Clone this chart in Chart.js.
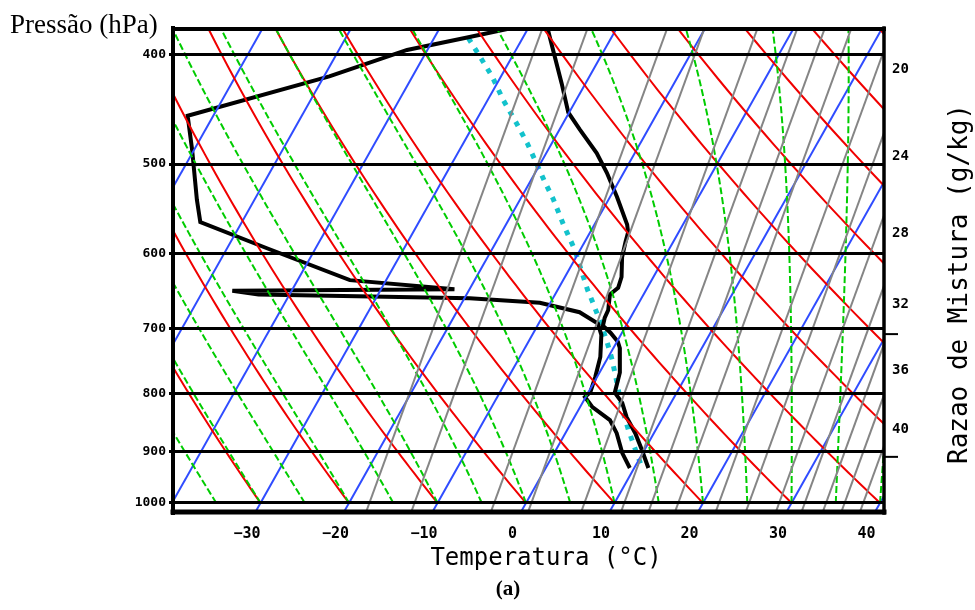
<!DOCTYPE html>
<html>
<head>
<meta charset="utf-8">
<title>Skew-T</title>
<script src="https://cdn.jsdelivr.net/npm/chart.js@4.4.1/dist/chart.umd.min.js"></script>
<style>
  html,body{margin:0;padding:0;background:#fff;}
</style>
</head>
<body>
<canvas id="myc" width="975" height="610"></canvas>
<script>
// ---- values ----
var presLevels = [400, 500, 600, 700, 800, 900, 1000]
var tempTicks = [-30, -20, -10, 0, 10, 20, 30, 40]
var mixLabels = [20, 24, 28, 32, 36, 40]
var mixLabelPres = [412, 492, 576, 666, 762, 861]
var sideMarkPres = [708, 910]

// temperature sounding (hPa / degC)
var tempPres = [378, 396, 424, 450, 466, 489, 509, 535, 566, 575, 586, 605, 630, 644, 653, 674, 685, 696, 706, 719, 728, 766, 798, 815, 839, 867, 897, 931]
var tempVals = [-27.9, -25.8, -22.7, -20.1, -17.7, -14.3, -11.9, -9.2, -6.3, -5.7, -5.4, -4.8, -3.6, -3.3, -3.8, -3.0, -2.9, -2.6, -1.3, 0.1, 0.7, 2.3, 3.0, 4.5, 5.9, 7.9, 9.7, 11.6]

// dew point sounding
var dewPres = [378, 386, 396, 418, 453, 486, 538, 563, 594, 634, 646, 648, 653, 658, 664, 677, 693, 709, 742, 773, 797, 805, 822, 844, 867, 903, 931]
var dewVals = [-31.5, -36.3, -42.3, -49.4, -62.9, -60.2, -56.5, -54.7, -45.5, -34.1, -21.7, -46.7, -43.5, -19.4, -11.2, -6.1, -3.3, -2.2, -0.9, -0.2, 0.2, -0.1, 1.4, 4.2, 5.8, 7.7, 9.5]

// lifted parcel (cyan dots)
var parcelPres = [922, 892, 861, 822, 778, 746, 721, 695, 664, 647, 625, 596, 566, 537, 518, 498, 479, 459, 439, 418, 398, 382]
var parcelVals = [10.4, 8.7, 6.9, 4.7, 2.4, 0.6, -1.0, -2.8, -5.2, -6.6, -8.3, -10.6, -13.5, -16.3, -18.4, -20.6, -22.8, -25.4, -28.2, -31.0, -34.2, -36.9]

// background line families
var isotherms = [-70, -60, -50, -40, -30, -20, -10, 0, 10, 20, 30, 40]
var dryAdiabats = [-30, -20, -10, 0, 10, 20, 30, 40, 50, 60, 70, 80, 90, 100, 110]   // theta, degC
var moistAdiabats = [-40, -35, -30, -25, -20, -15, -10, -5, 0, 5, 10, 15, 20, 25, 30, 35, 40] // T at 1000 hPa
// gray mixing-ratio guide lines: temperature where each crosses 1000 hPa
var mixLineBase = [-17.7, -12.6, -3.6, 0.6, 6.6, 11.1, 14.2, 17.2, 21.8, 25.2, 28.6, 31.5, 33.9, 36.0, 38.1]
var MIX_LAPSE = 11.0   // degC per ln(p) along a gray line, as drawn in the figure

// diagram geometry (skew-T)
var P_REF = 1050, SKEW = 31.15
var P_TOP = 378.6, P_BOT = 1020.7
var T_LEFT = -38.37, T_RIGHT = 41.97

function pt(t, p) { return {x: t + SKEW * Math.log(P_REF / p), y: p} }

function esat(t) { return 6.112 * Math.exp(17.67 * t / (t + 243.5)) }

function moistRate(p, t) {
    var T = t + 273.15
    var es = esat(t)
    var rs = 0.622 * es / (p - es)
    var num = 287.04 * T + 2.501e6 * rs
    var den = 1005.7 + 2.501e6 * 2.501e6 * rs * 0.622 / (287.04 * T * T)
    return num / den / p
}

var datasets = []
function addLine(pts, color, width, dash) {
    datasets.push({
        data: pts, borderColor: color, backgroundColor: color, borderWidth: width,
        borderDash: dash || [], showLine: true, pointRadius: 0, fill: false, tension: 0
    })
}

// mixing ratio lines (gray, straight)
mixLineBase.forEach(function (t0) {
    var pts = [1040, 370].map(function (p) { return pt(t0 - MIX_LAPSE * Math.log(1000 / p), p) })
    addLine(pts, '#858585', 2)
})

// moist adiabats (green dashed)
moistAdiabats.forEach(function (t0) {
    var pts = [pt(t0, 1000)], p = 1000, t = t0, h = -5
    while (p > 370) {
        var k1 = moistRate(p, t)
        var k2 = moistRate(p + h / 2, t + h / 2 * k1)
        var k3 = moistRate(p + h / 2, t + h / 2 * k2)
        var k4 = moistRate(p + h, t + h * k3)
        t += h / 6 * (k1 + 2 * k2 + 2 * k3 + k4)
        p += h
        pts.push(pt(t, p))
    }
    addLine(pts, '#00cc00', 2, [7, 3])
})

// dry adiabats (red)
dryAdiabats.forEach(function (th) {
    var pts = []
    for (var p = 1000; p >= 370; p -= 10) pts.push(pt((th + 273.15) * Math.pow(p / 1000, 0.2857) - 273.15, p))
    addLine(pts, '#f00000', 2)
})

// isotherms (blue)
isotherms.forEach(function (t) {
    addLine([pt(t, 1030), pt(t, 370)], '#2f4cff', 2)
})

// soundings
addLine(tempPres.map(function (p, i) { return pt(tempVals[i], p) }), '#000', 4)
addLine(dewPres.map(function (p, i) { return pt(dewVals[i], p) }), '#000', 4)
addLine(parcelPres.map(function (p, i) { return pt(parcelVals[i], p) }), '#12c2cc', 5, [5, 7])

var monoFont = 'DejaVu Sans Mono'

var frameText = {
    id: 'frameText',
    afterDraw: function (chart) {
        var c = chart.ctx, a = chart.chartArea
        c.save()
        c.strokeStyle = '#000'
        c.lineCap = 'square'
        c.lineWidth = 4
        c.beginPath(); c.moveTo(a.left, a.top + 1); c.lineTo(a.right, a.top + 1); c.stroke()
        c.beginPath(); c.moveTo(a.left, a.top); c.lineTo(a.left, a.bottom); c.stroke()
        c.lineWidth = 3.5
        c.beginPath(); c.moveTo(a.right, a.top); c.lineTo(a.right, a.bottom); c.stroke()
        c.lineWidth = 5
        c.beginPath(); c.moveTo(a.left, a.bottom - 1); c.lineTo(a.right, a.bottom - 1); c.stroke()
        // side marks on the right
        c.lineWidth = 2
        c.lineCap = 'butt'
        sideMarkPres.forEach(function (p) {
            var y = chart.scales.y.getPixelForValue(p)
            c.beginPath(); c.moveTo(a.right, y); c.lineTo(a.right + 14, y); c.stroke()
        })
        // texts
        c.fillStyle = '#000'
        c.font = '27px "Liberation Serif"'
        c.textAlign = 'left'; c.textBaseline = 'alphabetic'
        c.fillText('Pressão (hPa)', 10, 33)
        c.font = '24px "' + monoFont + '"'
        c.textAlign = 'center'; c.textBaseline = 'middle'
        c.fillText('Temperatura (°C)', 546, 559)
        c.font = 'bold 21px "Liberation Serif"'
        c.fillText('(a)', 508, 590)
        c.translate(960, 284)
        c.rotate(-Math.PI / 2)
        c.font = '26px "' + monoFont + '"'
        c.fillText('Razao de Mistura (g/kg)', 0, 0)
        c.restore()
    }
}

var ctx = document.getElementById('myc').getContext('2d')
var myChart = new Chart(ctx, {
    type: 'scatter',
    data: {datasets: datasets},
    options: {
        responsive: false,
        animation: false,
        devicePixelRatio: 1,
        layout: {padding: {top: 28, left: 0, right: 0, bottom: 0}},
        plugins: {legend: {display: false}, tooltip: {enabled: false}},
        scales: {
            x: {
                type: 'linear', min: T_LEFT, max: T_RIGHT,
                afterFit: function (s) { s.height = 97 },
                afterBuildTicks: function (s) { s.ticks = tempTicks.map(function (v) { return {value: v} }) },
                grid: {display: false, drawTicks: false},
                border: {display: false},
                ticks: {
                    color: '#000', padding: 12, maxRotation: 0, autoSkip: false,
                    font: {family: monoFont, size: 15, weight: 'bold'},
                    callback: function (v) { return v < 0 ? '\u2212' + Math.abs(v) : String(v) }
                }
            },
            y: {
                type: 'logarithmic', position: 'left', reverse: true, min: P_TOP, max: P_BOT,
                afterFit: function (s) { s.width = 173 },
                afterBuildTicks: function (s) { s.ticks = presLevels.map(function (v) { return {value: v} }) },
                grid: {color: '#000', lineWidth: 3, tickLength: 4, z: 1},
                border: {display: false},
                ticks: {
                    color: '#000', padding: 3, autoSkip: false,
                    font: {family: monoFont, size: 13, weight: 'bold'},
                    callback: function (v) { return String(v) }
                }
            },
            y2: {
                type: 'logarithmic', position: 'right', reverse: true, min: P_TOP, max: P_BOT,
                afterFit: function (s) { s.width = 91 },
                afterBuildTicks: function (s) { s.ticks = mixLabelPres.map(function (v) { return {value: v} }) },
                grid: {display: false, drawTicks: false},
                border: {display: false},
                ticks: {
                    color: '#000', padding: 8, autoSkip: false,
                    font: {family: monoFont, size: 14, weight: 'bold'},
                    callback: function (v, i) { return String(mixLabels[i]) }
                }
            }
        }
    },
    plugins: [frameText]
})
</script>
</body>
</html>
